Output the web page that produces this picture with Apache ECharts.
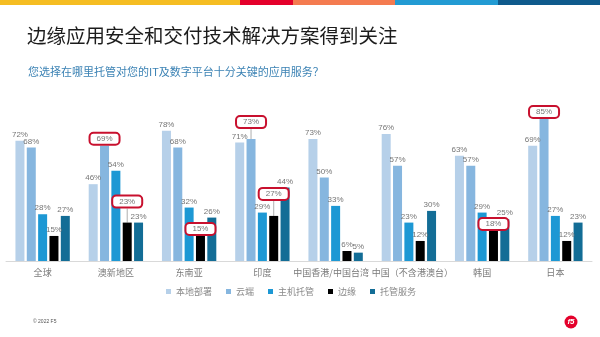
<!DOCTYPE html>
<html>
<head>
<meta charset="utf-8">
<script src="https://cdn.jsdelivr.net/npm/echarts@6/dist/echarts.min.js"></script>
<style>
  html, body { margin: 0; padding: 0; background: #fff; }
  #chart { width: 600px; height: 337px; }
</style>
</head>
<body>
<div id="chart"></div>
<script>
// Regions surveyed
const categories = ['全球', '澳新地区', '东南亚', '印度', '中国香港/中国台湾', '中国（不含港澳台）', '韩国', '日本'];

// Share of respondents (%) per hosting choice
const seriesNames = ['本地部署', '云端', '主机托管', '边缘', '托管服务'];
const onPremises = [72, 46, 78, 71, 73, 76, 63, 69];
const cloud      = [68, 69, 68, 73, 50, 57, 57, 85];
const colocation = [28, 54, 32, 29, 33, 23, 29, 27];
const edge       = [15, 23, 15, 27,  6, 12, 18, 12];
const managed    = [27, 23, 26, 44,  5, 30, 25, 23];
const seriesValues = [onPremises, cloud, colocation, edge, managed];

const seriesColors = ['#b6d0e9', '#86b6df', '#1d98d4', '#000000', '#136d96'];

// Highlighted labels: [series, category, lift in px]
const callouts = [
  [1, 1, 0], [3, 1, 14], [3, 2, 0], [1, 3, 10], [3, 3, 15], [3, 6, 0], [1, 7, 0]
];

// The two long Greater China labels are nudged apart so they do not collide
const labelPadding = { 4: [0, 9, 0, 0], 5: [0, 0, 0, 7] };

const CJK = '"Noto Sans CJK SC", "Noto Sans", sans-serif';

function findCallout(s, i) {
  return callouts.find(c => c[0] === s && c[1] === i);
}

const series = seriesValues.map((vals, s) => ({
  name: seriesNames[s],
  type: 'bar',
  barWidth: 9,
  barGap: '26%',
  itemStyle: { color: seriesColors[s] },
  label: {
    show: true,
    position: 'top',
    distance: 2,
    formatter: '{c}%',
    fontSize: 8,
    color: '#767676',
    fontFamily: 'Arial, "Liberation Sans", sans-serif'
  },
  labelLayout: function (params) {
    const c = findCallout(s, params.dataIndex);
    if (c && c[2]) return { dy: -c[2] };
    return {};
  },
  data: vals.map((v, i) => {
    const c = findCallout(s, i);
    if (!c) return v;
    return {
      value: v,
      label: {
        borderColor: '#c8102e',
        borderWidth: 2,
        borderRadius: 3,
        padding: [1, 6, 1, 6],
        backgroundColor: '#fff',
        color: '#767676'
      },
      labelLine: { show: c[2] > 0, lineStyle: { color: '#9a9a9a', width: 0.8 } }
    };
  })
}));

const chart = echarts.init(document.getElementById('chart'));
chart.setOption({
  animation: false,
  backgroundColor: '#ffffff',
  title: [
    {
      text: '边缘应用安全和交付技术解决方案得到关注',
      left: 27, top: 26, padding: 0,
      textStyle: { fontFamily: CJK, fontSize: 19.5, fontWeight: 'normal', color: '#1c1c1c' }
    },
    {
      text: '您选择在哪里托管对您的IT及数字平台十分关键的应用服务？',
      left: 28, top: 66, padding: 0,
      textStyle: { fontFamily: CJK, fontSize: 11, fontWeight: 'normal', color: '#3b82b4' }
    },
    {
      text: '© 2022 F5',
      left: 33, top: 319, padding: 0,
      textStyle: { fontFamily: 'Arial, sans-serif', fontSize: 5, fontWeight: 'normal', color: '#555' }
    }
  ],
  legend: {
    data: seriesNames,
    top: 282,
    left: 161,
    icon: 'rect',
    itemWidth: 5,
    itemHeight: 5,
    itemGap: 14,
    textStyle: { fontFamily: CJK, fontSize: 9, color: '#8a8a8a' }
  },
  grid: { left: 6, right: 8, top: 94, bottom: 76 },
  xAxis: {
    type: 'category',
    data: categories.map((c, i) =>
      labelPadding[i] ? { value: c, textStyle: { padding: labelPadding[i] } } : c),
    axisLine: { lineStyle: { color: '#d9d9d9', width: 1 } },
    axisTick: { show: false },
    axisLabel: { interval: 0, fontFamily: CJK, fontSize: 9, color: '#7a7a7a', margin: 7 }
  },
  yAxis: {
    type: 'value',
    min: 0,
    max: 100,
    show: false
  },
  series: series,
  graphic: [
    { type: 'rect', shape: { x: 0, y: 0, width: 240, height: 5 }, style: { fill: '#f5bd22' } },
    { type: 'rect', shape: { x: 240, y: 0, width: 53, height: 5 }, style: { fill: '#e4002b' } },
    { type: 'rect', shape: { x: 293, y: 0, width: 102, height: 5 }, style: { fill: '#f47b50' } },
    { type: 'rect', shape: { x: 395, y: 0, width: 103, height: 5 }, style: { fill: '#229bd3' } },
    { type: 'rect', shape: { x: 498, y: 0, width: 102, height: 5 }, style: { fill: '#0f5a8c' } },
    { type: 'circle', shape: { cx: 571, cy: 322, r: 6.5 }, style: { fill: '#e4002b' } },
    {
      type: 'text', x: 571, y: 322,
      style: { text: 'f5', fill: '#fff', fontSize: 8, fontWeight: 'bold', fontStyle: 'italic',
               fontFamily: 'Arial, sans-serif', align: 'center', verticalAlign: 'middle' }
    }
  ]
});
</script>
</body>
</html>
